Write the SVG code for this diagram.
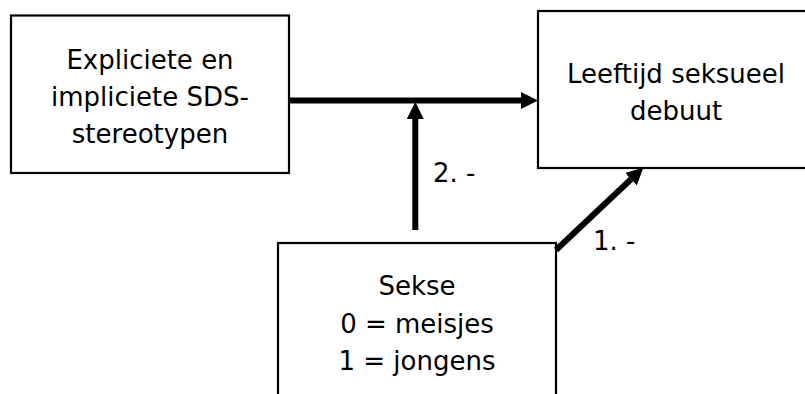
<svg xmlns="http://www.w3.org/2000/svg" width="805" height="394" viewBox="0 0 805 394">
<style>
.box{fill:#fff;stroke:#000;stroke-width:2.2}
.t{font-family:"DejaVu Sans",Verdana,sans-serif;font-size:26px;fill:#000}
.c{text-anchor:middle}
.conn{stroke:#000;stroke-width:6;fill:none}
</style>
<defs>
<marker id="ah" markerUnits="userSpaceOnUse" markerWidth="17" markerHeight="17" refX="0" refY="8.5" orient="auto" viewBox="0 0 17 17">
<path d="M0,0 L17,8.5 L0,17 z" fill="#000"/>
</marker>
</defs>
<rect width="805" height="394" fill="#fff"/>
<g id="node-stereotypen">
<rect class="box" x="11" y="15.5" width="278" height="157.5"/>
<text class="t c" x="150" y="69">Expliciete en</text>
<text class="t c" x="150" y="106">impliciete SDS-</text>
<text class="t c" x="150" y="143">stereotypen</text>
</g>
<g id="node-debuut">
<rect class="box" x="538" y="11" width="290" height="157"/>
<text class="t c" x="676" y="83">Leeftijd seksueel</text>
<text class="t c" x="676" y="120">debuut</text>
</g>
<g id="node-sekse">
<rect class="box" x="278" y="243" width="278" height="200"/>
<text class="t c" x="417" y="295">Sekse</text>
<text class="t c" x="417" y="333">0 = meisjes</text>
<text class="t c" x="417" y="370">1 = jongens</text>
</g>
<g id="connectors">
<line class="conn" x1="289" y1="100.5" x2="521" y2="100.5" marker-end="url(#ah)"/>
<line class="conn" x1="415.3" y1="230" x2="415.3" y2="119" marker-end="url(#ah)"/>
<line class="conn" x1="556" y1="250" x2="631" y2="179.2" marker-end="url(#ah)"/>
<text class="t" x="433" y="182">2. -</text>
<text class="t" x="593" y="250">1. -</text>
</g>
</svg>
